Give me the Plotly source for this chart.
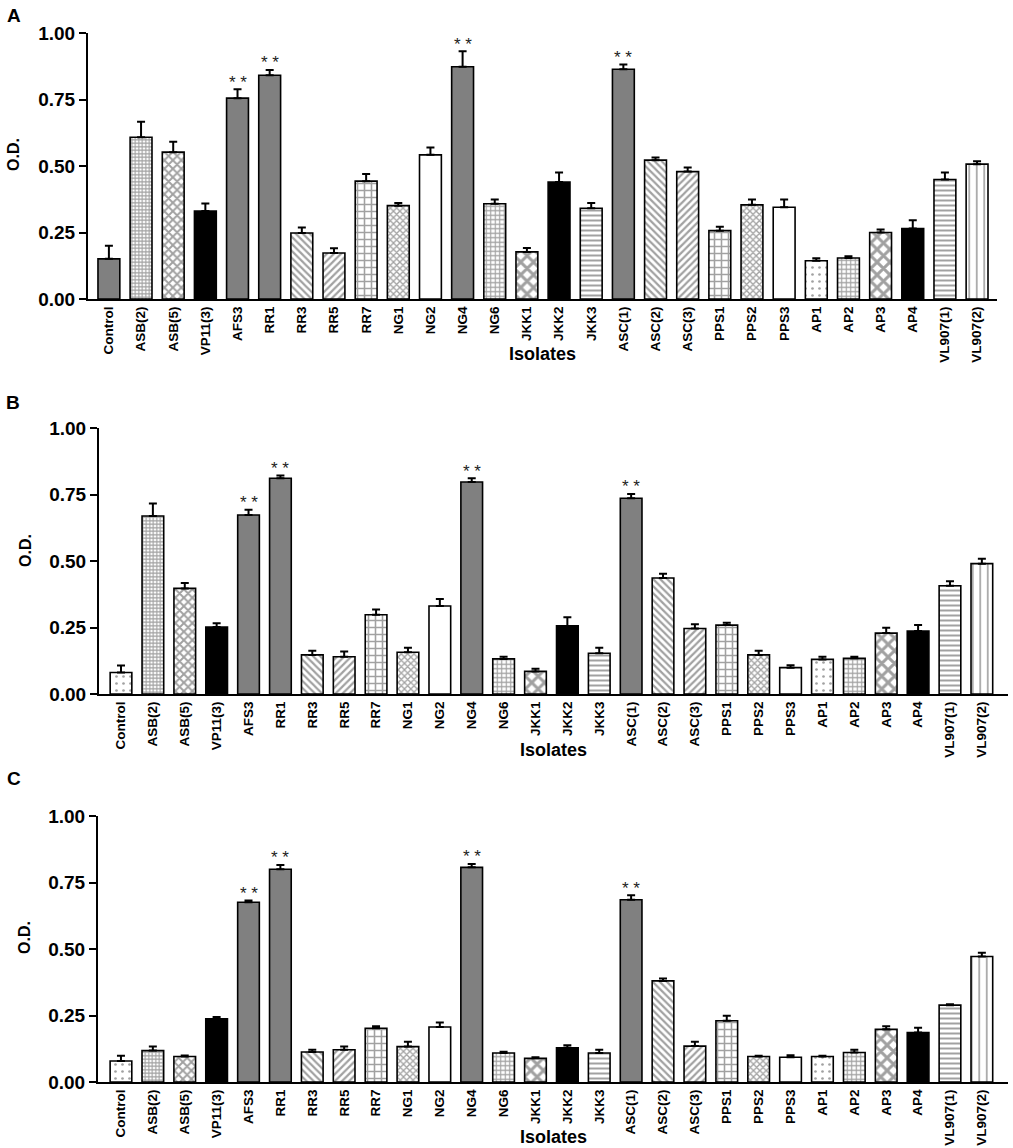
import plotly.graph_objects as go

isolates = ["Control", "ASB(2)", "ASB(5)", "VP11(3)", "AFS3", "RR1", "RR3", "RR5", "RR7",
            "NG1", "NG2", "NG4", "NG6", "JKK1", "JKK2", "JKK3", "ASC(1)", "ASC(2)", "ASC(3)",
            "PPS1", "PPS2", "PPS3", "AP1", "AP2", "AP3", "AP4", "VL907(1)", "VL907(2)"]

# panel A
od_a = [0.151, 0.608, 0.552, 0.331, 0.755, 0.841, 0.248, 0.173, 0.443, 0.351, 0.542, 0.873, 0.358, 0.177,
        0.440, 0.341, 0.864, 0.522, 0.479, 0.257, 0.354, 0.345, 0.144, 0.154, 0.250, 0.265, 0.449, 0.507]
sem_a = [0.049, 0.058, 0.039, 0.028, 0.034, 0.020, 0.021, 0.018, 0.027, 0.010, 0.028, 0.058, 0.016, 0.015,
         0.036, 0.020, 0.018, 0.010, 0.015, 0.015, 0.020, 0.029, 0.009, 0.007, 0.011, 0.031, 0.027, 0.011]

# panel B
od_b = [0.081, 0.669, 0.397, 0.252, 0.673, 0.811, 0.147, 0.140, 0.298, 0.157, 0.331, 0.797, 0.132, 0.085,
        0.256, 0.153, 0.736, 0.436, 0.246, 0.259, 0.147, 0.099, 0.130, 0.134, 0.229, 0.237, 0.407, 0.490]
sem_b = [0.026, 0.047, 0.020, 0.014, 0.020, 0.010, 0.016, 0.020, 0.020, 0.017, 0.026, 0.014, 0.008, 0.010,
         0.033, 0.021, 0.016, 0.016, 0.016, 0.009, 0.016, 0.009, 0.010, 0.006, 0.020, 0.022, 0.017, 0.018]

# panel C
od_c = [0.079, 0.118, 0.096, 0.238, 0.676, 0.800, 0.113, 0.121, 0.202, 0.133, 0.207, 0.807, 0.109, 0.089,
        0.129, 0.109, 0.685, 0.380, 0.135, 0.230, 0.096, 0.093, 0.096, 0.111, 0.198, 0.186, 0.289, 0.472]
sem_c = [0.020, 0.015, 0.004, 0.006, 0.006, 0.016, 0.008, 0.012, 0.008, 0.018, 0.017, 0.013, 0.005, 0.004,
         0.009, 0.012, 0.017, 0.009, 0.016, 0.019, 0.003, 0.008, 0.003, 0.010, 0.012, 0.018, 0.003, 0.014]

significant = ["AFS3", "RR1", "NG4", "ASC(1)"]

# fill style of each isolate (control differs in panel A)
fill_keys = ["gray", "finegrid", "finechecker", "black", "gray", "gray", "back", "fwd", "grid",
             "cross", "white", "gray", "dotgrid", "checker", "black", "hlines", "gray", "back", "fwd",
             "grid", "cross", "white", "dots", "dotgrid", "checker", "black", "hlines", "vlines"]

# colour, pattern shape, pattern size, solidity
styles = {
    "gray": ("#808080", "", 8, 0.3),
    "black": ("#000000", "", 8, 0.3),
    "white": ("#ffffff", "", 8, 0.3),
    "finegrid": ("#ffffff", "+", 3.5, 0.55),
    "dotgrid": ("#ffffff", "+", 4.5, 0.45),
    "finechecker": ("#ffffff", "x", 6, 0.55),
    "checker": ("#ffffff", "x", 9, 0.55),
    "back": ("#ffffff", "\\", 5, 0.45),
    "fwd": ("#ffffff", "/", 5, 0.45),
    "grid": ("#ffffff", "+", 7, 0.4),
    "cross": ("#ffffff", "x", 4.5, 0.5),
    "hlines": ("#ffffff", "-", 5, 0.4),
    "vlines": ("#ffffff", "|", 7.5, 0.22),
    "dots": ("#ffffff", ".", 7, 0.12),
}

W, H = 1013, 1148
FONT = "Liberation Sans, Arial, sans-serif"

# pixel layout of each panel: x0, x1, y_top(1.00), y_bottom(0.00)
panels = [
    ("A", od_a, sem_a, "gray", (88, 997, 33, 299), (-0.65, 27.62), 14, 16, 14, 155, 542, 354),
    ("B", od_b, sem_b, "dots", (99, 1008, 428, 694), (-0.69, 27.82), 13, 402, 25, 551, 553, 750),
    ("C", od_c, sem_c, "dots", (98, 1008, 816, 1082), (-0.72, 27.82), 14, 778, 24, 938, 553, 1137),
]

fig = go.Figure()
annotations = []

for i, (letter, od, sem, ctrl, box, xr, lx, ly, odx, ody, isox, isoy) in enumerate(panels):
    sfx = "" if i == 0 else str(i + 1)
    keys = [ctrl] + fill_keys[1:]
    fig.add_trace(go.Bar(
        x=isolates, y=od,
        xaxis="x" + sfx, yaxis="y" + sfx,
        marker=dict(
            color=[styles[k][0] for k in keys],
            line=dict(color="black", width=1.6),
            pattern=dict(
                shape=[styles[k][1] for k in keys],
                size=[styles[k][2] for k in keys],
                solidity=[styles[k][3] for k in keys],
                fgcolor="black",
                bgcolor=[styles[k][0] for k in keys],
            ),
        ),
        error_y=dict(type="data", array=sem, symmetric=False, arrayminus=[0] * len(sem),
                     color="black", thickness=2, width=4),
        showlegend=False,
    ))
    x0, x1, yt, yb = box
    fig.layout["xaxis" + sfx] = dict(
        domain=[x0 / W, x1 / W], anchor="y" + sfx, type="category", range=list(xr),
        showline=True, linecolor="black", linewidth=2, ticks="", showgrid=False,
        automargin=False, tickangle=-90,
        tickfont=dict(family=FONT, size=13.5, color="black", weight="bold"),
    )
    fig.layout["yaxis" + sfx] = dict(
        domain=[(H - yb) / H, (H - yt) / H], anchor="x" + sfx, range=[0, 1],
        tickvals=[0, 0.25, 0.5, 0.75, 1.0], tickformat=".2f",
        showline=True, linecolor="black", linewidth=2, ticks="outside", ticklen=7, tickwidth=2,
        tickcolor="black", showgrid=False, zeroline=False, automargin=False,
        tickfont=dict(family=FONT, size=19, color="black", weight="bold"),
    )
    for name in significant:
        j = isolates.index(name)
        annotations.append(dict(
            x=name, y=od[j] + sem[j], xref="x" + sfx, yref="y" + sfx,
            text="* *", showarrow=False, yanchor="middle", yshift=7,
            font=dict(family=FONT, size=17, color="#222222"),
        ))
    annotations.append(dict(
        x=lx / W, y=(H - ly) / H, xref="paper", yref="paper", text="<b>%s</b>" % letter,
        showarrow=False, xanchor="center", yanchor="middle",
        font=dict(family=FONT, size=19, color="black"),
    ))
    annotations.append(dict(
        x=odx / W, y=(H - ody) / H, xref="paper", yref="paper",
        text="<b>O.D.</b>", textangle=-90, showarrow=False, xanchor="center", yanchor="middle",
        font=dict(family=FONT, size=16, color="black"),
    ))
    annotations.append(dict(
        x=isox / W, y=(H - isoy) / H, xref="paper", yref="paper", text="<b>Isolates</b>",
        showarrow=False, xanchor="center", yanchor="middle",
        font=dict(family=FONT, size=18, color="black"),
    ))

fig.update_layout(
    width=W, height=H,
    margin=dict(l=0, r=0, t=0, b=0),
    paper_bgcolor="white", plot_bgcolor="white",
    bargap=0.32,
    annotations=annotations,
    font=dict(family=FONT, color="black"),
)

# the page's default body margin would push the figure 8px off
fig.write_html("out.html", config={"displayModeBar": False},
               post_script="document.body.style.margin='0px';")
